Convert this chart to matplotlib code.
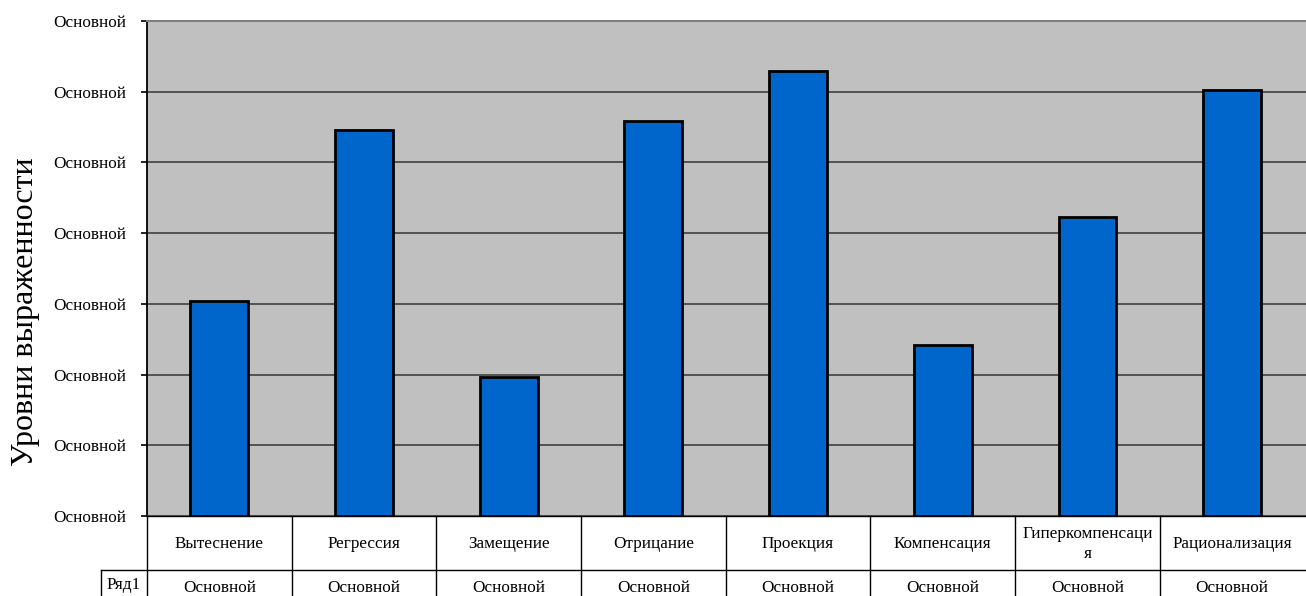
import matplotlib
matplotlib.use("Agg")
import matplotlib.pyplot as plt
from matplotlib.lines import Line2D

categories = ["Вытеснение", "Регрессия", "Замещение", "Отрицание", "Проекция",
              "Компенсация", "Гиперкомпенсаци\nя", "Рационализация"]
values = [3.04, 5.46, 1.97, 5.59, 6.29, 2.42, 4.23, 6.03]
yticks = [0, 1, 2, 3, 4, 5, 6, 7]
ytick_labels = ["Основной"] * 8
series_name = "Ряд1"
table_values = ["Основной"] * 8

plt.rcParams['font.family'] = ['Liberation Serif', 'DejaVu Serif']

W, H = 1306, 596
fig = plt.figure(figsize=(W / 100, H / 100), dpi=100)
left, right, top, bottom = 147, 1306, 21, 516
ax = fig.add_axes([left / W, 1 - bottom / H, (right - left) / W, (bottom - top) / H])
ax.set_facecolor("#C0C0C0")

fs = 12.3
x = list(range(len(categories)))
ax.bar(x, values, width=0.4, color="#0066CC", edgecolor="black", linewidth=2, zorder=3)
ax.set_xlim(-0.5, len(categories) - 0.5 + 0.01)
ax.set_ylim(0, 7)
ax.set_yticks(yticks)
ax.set_yticklabels(ytick_labels, fontsize=fs)
ax.yaxis.grid(True, color="#4a4a4a", linewidth=1.3, zorder=1)
ax.set_xticks([])
for s in ["right", "bottom"]:
    ax.spines[s].set_visible(False)
ax.spines["top"].set_color("#808080")
ax.spines["top"].set_linewidth(1.5)
ax.spines["left"].set_color("black")
ax.spines["left"].set_linewidth(1.3)
ax.tick_params(axis="y", length=4.3, width=1.2, pad=10.8)

hpx = bottom - top
ax.set_ylabel("Уровни выраженности", fontsize=23)
ax.yaxis.set_label_coords((40 - left) / (right - left), (bottom - 312) / hpx)

# Data table below the axes
trans = ax.get_xaxis_transform()
row1 = (516 - 570) / hpx
fig_bottom = (516 - 596) / hpx
lc = "black"
lw = 1.0
colw = (right - left) / (len(categories) + 0.01)
xl = -0.5 - 46 / colw
ax.add_line(Line2D([-0.5, len(categories) - 0.5 + 0.01], [0, 0], transform=trans, color=lc, lw=lw, clip_on=False))
ax.add_line(Line2D([xl, len(categories) - 0.5 + 0.01], [row1, row1], transform=trans, color=lc, lw=lw, clip_on=False))
for i in range(len(categories)):
    ax.add_line(Line2D([i - 0.5, i - 0.5], [0, fig_bottom], transform=trans, color=lc, lw=lw, clip_on=False))
ax.add_line(Line2D([xl, xl], [row1, fig_bottom], transform=trans, color=lc, lw=lw, clip_on=False))

for i, c in enumerate(categories):
    ax.text(i, (516 - 544) / hpx, c, transform=trans, ha="center", va="center", fontsize=fs,
            linespacing=1.25, clip_on=False)
    ax.text(i, (516 - 588) / hpx, table_values[i], transform=trans, ha="center",
            va="center", fontsize=fs, clip_on=False)
ax.text(xl + 6 / colw, (516 - 585) / hpx, series_name, transform=trans,
        ha="left", va="center", fontsize=fs, clip_on=False)

fig.savefig("out.png", dpi=100)
